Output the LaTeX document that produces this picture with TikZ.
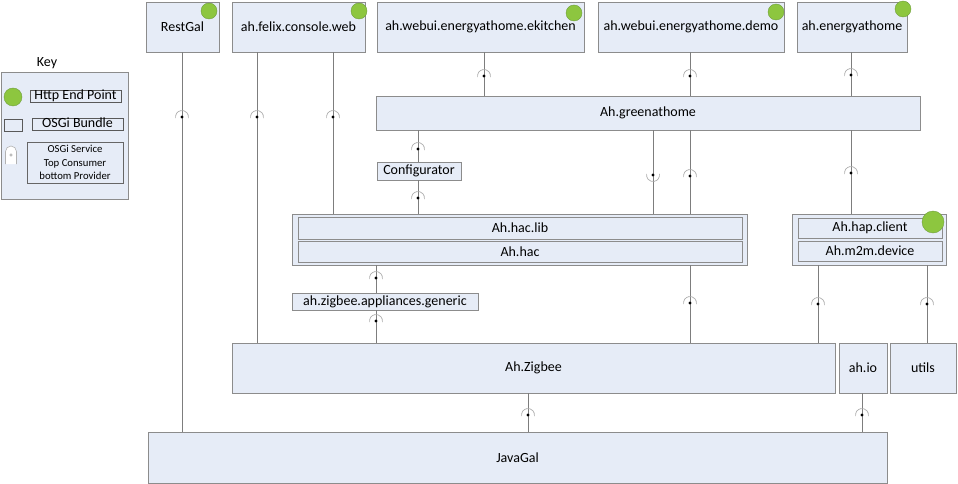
\documentclass[tikz,border=0pt]{standalone}
\usepackage{fontspec}
\setmainfont{Carlito}
\usetikzlibrary{positioning}

\definecolor{boxfill}{RGB}{230,236,247}
\definecolor{boxedge}{RGB}{140,140,140}
\definecolor{wiregray}{RGB}{125,125,125}
\definecolor{endgreen}{RGB}{141,198,63}
\definecolor{endedge}{RGB}{112,158,62}

\tikzset{
    bundle/.style={draw=boxedge, fill=boxfill, inner sep=0pt, line width=0.8, font=\fontsize{14}{16}\selectfont},
    keylabel/.style={draw=black!65, line width=0.6, inner sep=0.5pt, text height=8.5, text depth=2.5, font=\fontsize{14}{16}\selectfont},
    endpt/.style={circle, draw=endedge, fill=endgreen, inner sep=0pt, minimum size=16},
    wire/.style={draw=wiregray, line width=0.8},
    socket/.pic={
        \draw[gray!65, line width=0.7] (170:6.5) arc[start angle=170, end angle=370, radius=6.5];
        \fill (0,0) circle (1.6);
    },
    cup/.pic={
        \draw[gray!65, line width=0.7] (-10:6.5) arc[start angle=-10, end angle=190, radius=6.5];
        \fill (0,0) circle (1.6);
    }
}

\begin{document}
\begin{tikzpicture}[x=1pt, y=-1pt]
        \useasboundingbox (0,0) rectangle (958,484);

        % Key
        \node[font=\fontsize{14}{16}\selectfont] (keytitle) at (47,63) {Key};
        \node[bundle, minimum width=127, minimum height=127] (keybox) at (64.5,135.5) {};
        \node[endpt, minimum size=18] (keyep) at (13,97) {};
        \node[keylabel, minimum width=91] (keyhttp) at (75.5,96.5) {Http End Point};
        \node[draw=black!65, line width=0.6, minimum width=18, minimum height=12] (keybundle) at (13,125) {};
        \node[keylabel, minimum width=91] (keyosgi) at (77.5,124.5) {OSGi Bundle};
        \filldraw[fill=white, draw=gray!60, line width=0.6] (5.5,164) -- (5.5,151.5) arc[start angle=180, end angle=360, radius=5.5] -- (16.5,164);
        \draw[gray!70, line width=0.5] (11,155) circle (1.3);
        \node[draw=black!60, line width=0.6, minimum width=96, minimum height=41, inner sep=0pt, align=center, font=\fontsize{10.7}{13.3}\selectfont] (keysvc) at (75,162.5) {OSGi Service\\Top Consumer\\bottom Provider};

        % Top bundles
        \node[bundle, minimum width=73, minimum height=50] (restgal) at (182.5,27) {RestGal};
        \node[bundle, minimum width=133, minimum height=50] (felix) at (298.5,27) {ah.felix.console.web};
        \node[bundle, minimum width=207, minimum height=50] (ekitchen) at (480.5,27) {ah.webui.energyathome.ekitchen};
        \node[bundle, minimum width=186, minimum height=50] (demo) at (691,27) {ah.webui.energyathome.demo};
        \node[bundle, minimum width=110, minimum height=50] (energy) at (852,27) {ah.energyathome};

        % Middle bundles
        \node[bundle, minimum width=544, minimum height=34] (green) at (648,113) {Ah.greenathome};
        \node[bundle, minimum width=84, minimum height=18] (config) at (419,171) {Configurator};

        \node[bundle, minimum width=455, minimum height=51] (hacouter) at (519.5,239.5) {};
        \node[bundle, minimum width=444, minimum height=22] (haclib) at (520,228) {Ah.hac.lib};
        \node[bundle, minimum width=444, minimum height=21] (hac) at (520,251.5) {Ah.hac};

        \node[bundle, minimum width=154, minimum height=51] (hapouter) at (869,239.5) {};
        \node[bundle, minimum width=144, minimum height=20] (hapclient) at (870,228) {Ah.hap.client};
        \node[bundle, minimum width=144, minimum height=20] (m2m) at (870,251) {Ah.m2m.device};

        \node[bundle, minimum width=186, minimum height=17] (generic) at (385,301.5) {ah.zigbee.appliances.generic};

        % Bottom bundles
        \node[bundle, minimum width=603, minimum height=50] (zigbee) at (533.5,368) {Ah.Zigbee};
        \node[bundle, minimum width=48, minimum height=50] (ahio) at (863,368) {ah.io};
        \node[bundle, minimum width=66, minimum height=50] (utils) at (923,368) {utils};
        \node[bundle, minimum width=739, minimum height=51] (javagal) at (517.5,457.5) {JavaGal};

        % Services
        \foreach \x/\from/\to/\sy in {182/restgal/javagal/117, 257/felix/zigbee/117, 333/felix/hacouter/117,
                484/ekitchen/green/76, 690/demo/green/76, 851/energy/green/75,
                418/green/config/149, 418/config/hacouter/198, 690/green/hacouter/176, 851/green/hapouter/173,
                376/hacouter/generic/278, 376/generic/zigbee/321, 690/hacouter/zigbee/303,
                818/hapouter/zigbee/304, 927/hapouter/utils/304, 528/zigbee/javagal/415, 862/ahio/javagal/415}
        {
            \draw[wire] (\x,0 |- \from.south) -- (\x,0 |- \to.north);
            \pic at (\x,\sy) {socket};
        }
        \draw[wire] (653,0 |- green.south) -- (653,0 |- hacouter.north);
        \pic at (653,175) {cup};

        % Http end points
        \node[endpt] (restgal-ep) at (209,11) {};
        \node[endpt] (felix-ep) at (359,11) {};
        \node[endpt] (ekitchen-ep) at (574,13) {};
        \node[endpt] (demo-ep) at (776,12) {};
        \node[endpt] (energy-ep) at (903,9) {};
        \node[endpt, minimum size=22] (hap-ep) at (933,222) {};

\end{tikzpicture}
\end{document}
